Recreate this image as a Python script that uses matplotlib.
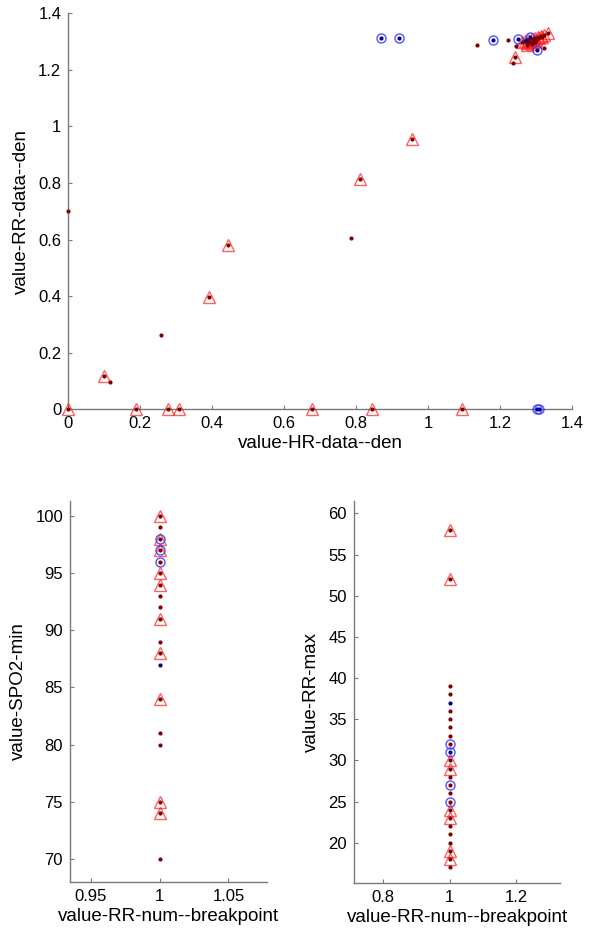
import numpy as np
import matplotlib
matplotlib.use("Agg")
import matplotlib.pyplot as plt
from matplotlib.ticker import FuncFormatter

plt.rcParams['font.family'] = ['Liberation Sans', 'DejaVu Sans']
plt.rcParams['font.size'] = 12

# --- top panel: HR den vs RR den ---
hr_red = [0, 0, 0.100, 0.115, 0.188, 0.257, 0.277, 0.307, 0.391, 0.444, 0.676, 0.785,
          0.810, 0.843, 0.955, 1.094, 1.137, 1.222, 1.235, 1.242, 1.245, 1.321, 1.333,
          1.262, 1.268, 1.274, 1.279, 1.284, 1.289, 1.293, 1.297, 1.301, 1.305, 1.309,
          1.313, 1.317, 1.322, 1.288, 1.296, 1.276]
rr_red = [0.700, 0, 0.117, 0.096, 0, 0.263, 0, 0, 0.396, 0.580, 0, 0.604,
          0.815, 0, 0.956, 0, 1.288, 1.304, 1.226, 1.245, 1.284, 1.277, 1.331,
          1.298, 1.302, 1.296, 1.305, 1.300, 1.308, 1.303, 1.312, 1.307, 1.315, 1.311,
          1.319, 1.316, 1.324, 1.292, 1.297, 1.289]
hr_blue = [0.868, 0.919, 1.179, 1.251, 1.282, 1.303, 1.302, 1.309, 1.272]
rr_blue = [1.313, 1.313, 1.306, 1.309, 1.317, 1.271, 0, 0, 1.305]
hr_tri = [0, 0.100, 0.188, 0.277, 0.307, 0.391, 0.444, 0.676, 0.810, 0.843, 0.955,
          1.094, 1.242, 1.333, 1.262, 1.268, 1.274, 1.279, 1.284, 1.289, 1.293, 1.297,
          1.301, 1.305, 1.309, 1.313, 1.317, 1.322, 1.288, 1.296, 1.276]
rr_tri = [0, 0.117, 0, 0, 0, 0.396, 0.580, 0, 0.815, 0, 0.956,
          0, 1.245, 1.331, 1.298, 1.302, 1.296, 1.305, 1.300, 1.308, 1.303, 1.312,
          1.307, 1.315, 1.311, 1.319, 1.316, 1.324, 1.292, 1.297, 1.289]
hr_circ = [0.868, 0.919, 1.179, 1.251, 1.282, 1.303, 1.302, 1.309]
rr_circ = [1.313, 1.313, 1.306, 1.309, 1.317, 1.271, 0, 0]

# --- bottom panels: everything sits at RR-num breakpoint = 1 ---
breakpoint_val = 1
spo2_red = [100, 99, 98, 97, 96, 95, 94, 93, 92, 91, 89, 88, 84, 81, 80, 75, 74, 70]
spo2_blue = [87]
spo2_tri = [100, 98, 97, 95, 94, 91, 88, 84, 75, 74]
spo2_circ = [98, 97, 96]

rrmax_red = [58, 52, 39, 38, 36, 35, 34, 33, 32, 30, 29, 28, 27, 26, 25, 24, 23,
             22, 21, 20, 19, 18, 17]
rrmax_blue = [37, 31]
rrmax_tri = [58, 52, 30, 29, 24, 23, 19, 18]
rrmax_circ = [32, 31, 27, 25]

DOT_RED = '#800000'
DOT_BLUE = '#000080'
TRI = '#ff2020'
CIRC = '#3535ff'
AXIS = '#7a7a7a'
TICK_FS = 12
LABEL_FS = 13.5


def style_axes(ax):
    for s in ['top', 'right']:
        ax.spines[s].set_visible(False)
    for s in ['left', 'bottom']:
        ax.spines[s].set_color(AXIS)
        ax.spines[s].set_linewidth(1.0)
    ax.tick_params(direction='in', length=3, color=AXIS, labelcolor='black',
                   labelsize=TICK_FS, pad=5)


def draw(ax, xr, yr, xb, yb, xt, yt, xc, yc):
    ax.plot(xt, yt, linestyle='none', marker='^', markersize=8, markerfacecolor='none',
            markeredgecolor=TRI, markeredgewidth=1.0, alpha=0.7, zorder=3, clip_on=False)
    ax.plot(xc, yc, linestyle='none', marker='o', markersize=6.5, markerfacecolor='none',
            markeredgecolor=CIRC, markeredgewidth=1.0, alpha=0.85, zorder=4, clip_on=False)
    ax.plot(xr, yr, linestyle='none', marker='o', markersize=3, color=DOT_RED,
            markeredgewidth=0, zorder=5, clip_on=False)
    ax.plot(xb, yb, linestyle='none', marker='o', markersize=3, color=DOT_BLUE,
            markeredgewidth=0, zorder=5, clip_on=False)


fig = plt.figure(figsize=(5.94, 9.30), dpi=100)

g = FuncFormatter(lambda v, p: '%g' % round(v, 4))

ax1 = fig.add_axes([0.115, 0.560, 0.848, 0.4257])
draw(ax1, hr_red, rr_red, hr_blue, rr_blue, hr_tri, rr_tri, hr_circ, rr_circ)
ax1.set_xlim(0, 1.4)
ax1.set_ylim(0, 1.4)
ax1.set_xticks(np.arange(0, 1.41, 0.2))
ax1.set_yticks(np.arange(0, 1.41, 0.2))
ax1.xaxis.set_major_formatter(g)
ax1.yaxis.set_major_formatter(g)
ax1.set_xlabel('value-HR-data--den', fontsize=LABEL_FS, labelpad=3)
ax1.set_ylabel('value-RR-data--den', fontsize=LABEL_FS, labelpad=6)
style_axes(ax1)

ax2 = fig.add_axes([0.1178, 0.0516, 0.3316, 0.4097])
draw(ax2, np.full(len(spo2_red), breakpoint_val), spo2_red,
     np.full(len(spo2_blue), breakpoint_val), spo2_blue,
     np.full(len(spo2_tri), breakpoint_val), spo2_tri,
     np.full(len(spo2_circ), breakpoint_val), spo2_circ)
ax2.set_xlim(0.935, 1.078)
ax2.set_ylim(68, 101.3)
ax2.set_xticks([0.95, 1, 1.05])
ax2.set_yticks(np.arange(70, 101, 5))
ax2.xaxis.set_major_formatter(g)
ax2.set_xlabel('value-RR-num--breakpoint', fontsize=LABEL_FS, labelpad=3)
ax2.set_ylabel('value-SPO2-min', fontsize=LABEL_FS, labelpad=6)
style_axes(ax2)

ax3 = fig.add_axes([0.596, 0.0505, 0.3468, 0.4108])
draw(ax3, np.full(len(rrmax_red), breakpoint_val), rrmax_red,
     np.full(len(rrmax_blue), breakpoint_val), rrmax_blue,
     np.full(len(rrmax_tri), breakpoint_val), rrmax_tri,
     np.full(len(rrmax_circ), breakpoint_val), rrmax_circ)
ax3.set_xlim(0.712, 1.332)
ax3.set_ylim(15.1, 61.5)
ax3.set_xticks([0.8, 1, 1.2])
ax3.set_yticks(np.arange(20, 61, 5))
ax3.xaxis.set_major_formatter(g)
ax3.set_xlabel('value-RR-num--breakpoint', fontsize=LABEL_FS, labelpad=3)
ax3.set_ylabel('value-RR-max', fontsize=LABEL_FS, labelpad=6)
style_axes(ax3)

fig.savefig('out.png', dpi=100, facecolor='white')
